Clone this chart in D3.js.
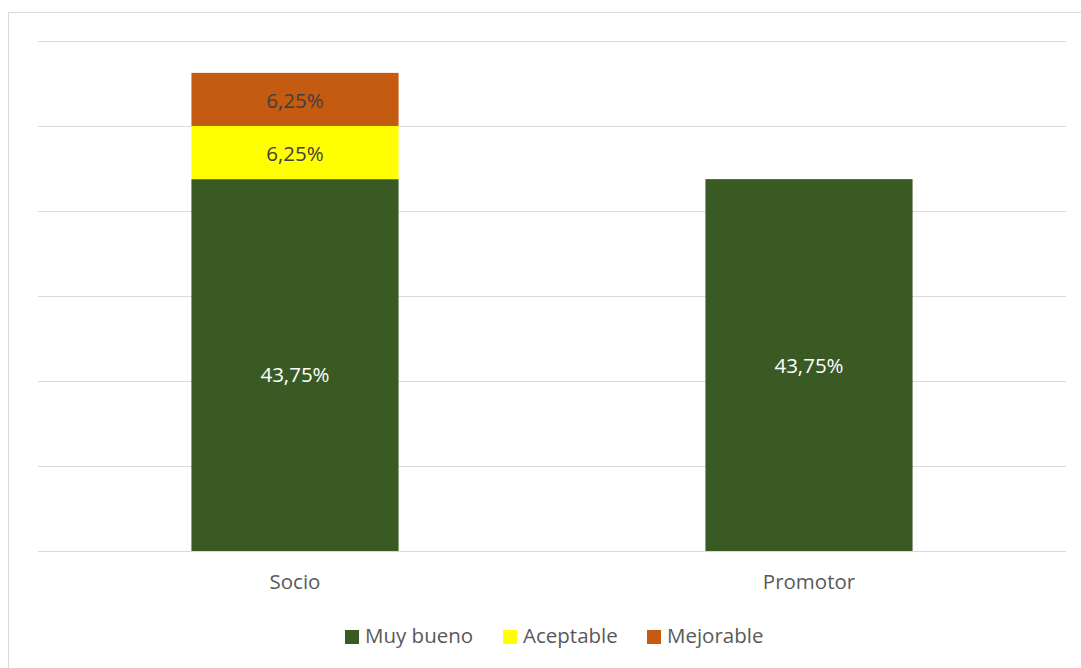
<!DOCTYPE html>
<html><head><meta charset="utf-8">
<script src="https://cdn.jsdelivr.net/npm/d3@7"></script>
<style>body{margin:0;background:#fff}svg{display:block}</style>
</head><body>
<svg id="c" width="1081" height="668"></svg>
<script>
const categories = ["Socio", "Promotor"];
const seriesNames = ["Muy bueno", "Aceptable", "Mejorable"];
const muyBueno = [43.75, 43.75];
const aceptable = [6.25, 0];
const mejorable = [6.25, 0];
const labels = [["43,75%", "43,75%"], ["6,25%", ""], ["6,25%", ""]];
const gridTicks = [0, 10, 20, 30, 40, 50, 60];
const colors = ["#3A5A23", "#FFFF00", "#C55A11"];
const labelColors = ["#FFFFFF", "#404040", "#404040"];

const svg = d3.select("#c");
const font = "'Open Sans', 'Noto Sans', sans-serif";
const fs = "20.5px";
svg.append("rect").attr("x", 8.5).attr("y", 12.5).attr("width", 1090).attr("height", 680)
  .attr("fill", "#fff").attr("stroke", "#D9D9D9").attr("stroke-width", 1);

const x = d3.scaleBand().domain(categories).range([38, 1066]).paddingInner(0.597).paddingOuter(0.2985);
const y = d3.scaleLinear().domain([0, 60]).range([551, 41]);

svg.append("g").selectAll("line").data(gridTicks).join("line")
  .attr("x1", 38).attr("x2", 1066)
  .attr("y1", d => Math.round(y(d)) + 0.5).attr("y2", d => Math.round(y(d)) + 0.5)
  .attr("stroke", "#D9D9D9").attr("stroke-width", 1);

const table = categories.map((c, i) => ({cat: c, v: [muyBueno[i], aceptable[i], mejorable[i]]}));
const stack = d3.stack().keys([0, 1, 2]).value((d, k) => d.v[k])(table);

const g = svg.append("g");
stack.forEach((layer, k) => {
  layer.forEach((seg, i) => {
    if (seg[1] - seg[0] <= 0) return;
    g.append("rect").attr("x", x(table[i].cat)).attr("width", x.bandwidth())
      .attr("y", y(seg[1])).attr("height", y(seg[0]) - y(seg[1])).attr("fill", colors[k]);
    g.append("text").attr("x", x(table[i].cat) + x.bandwidth() / 2)
      .attr("y", (y(seg[0]) + y(seg[1])) / 2 + (k === 0 && i === 0 ? 10 : 1)).attr("dy", "0.35em")
      .attr("text-anchor", "middle").attr("fill", labelColors[k])
      .style("font-family", font).style("font-size", fs).text(labels[k][i]);
  });
});

// baseline
svg.append("line").attr("x1", 38).attr("x2", 1066).attr("y1", 551.5).attr("y2", 551.5)
  .attr("stroke", "#D9D9D9").attr("stroke-width", 1);

const xAxis = d3.axisBottom(x).tickSize(0).tickPadding(0);
const ax = svg.append("g").attr("transform", "translate(0,582)").call(xAxis);
ax.select(".domain").remove();
ax.selectAll("text").attr("fill", "#595959").attr("dy", "0.35em")
  .style("font-family", font).style("font-size", fs);

// legend
const legendX = [345, 503, 647];
const lg = svg.append("g");
seriesNames.forEach((n, k) => {
  lg.append("rect").attr("x", legendX[k]).attr("y", 630).attr("width", 14).attr("height", 14).attr("fill", colors[k]);
  lg.append("text").attr("x", legendX[k] + 20).attr("y", 636).attr("dy", "0.35em")
    .attr("fill", "#595959").style("font-family", font).style("font-size", fs).text(n);
});
</script>
</body></html>
